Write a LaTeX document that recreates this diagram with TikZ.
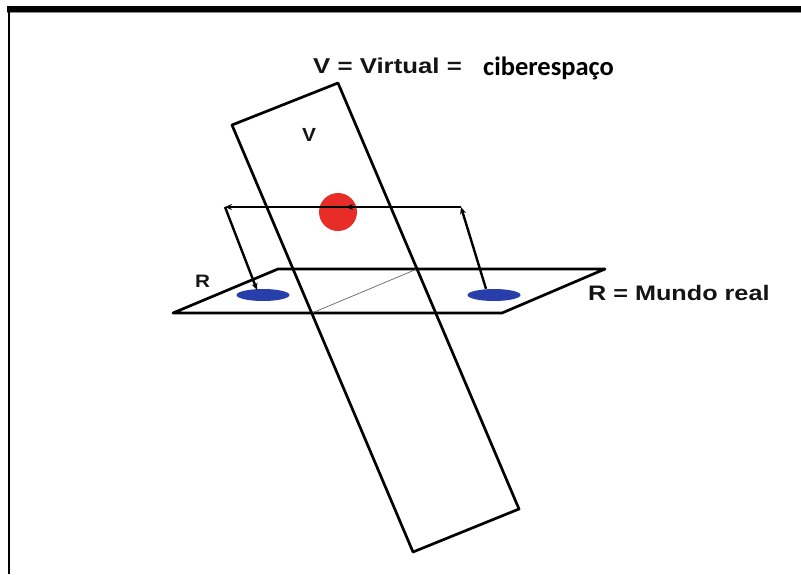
\documentclass[tikz,border=0pt]{standalone}
\usepackage{fontspec}
\setmainfont{Liberation Sans}
\newfontfamily\carlito{Carlito}
\usetikzlibrary{shapes.geometric,arrows.meta}
\definecolor{blueblob}{RGB}{40,62,170}
\definecolor{redball}{RGB}{232,45,40}
\definecolor{txtgray}{RGB}{20,20,20}
\tikzset{
  planeline/.style={line width=2.7pt, line join=round, line cap=round},
  conn/.style={line width=2.4pt, -{Stealth[length=7pt,width=6pt]}},
  lbl/.style={inner sep=0pt, anchor=base west, text=txtgray, font=\bfseries},
  blob/.style={ellipse, fill=blueblob, minimum width=53pt, minimum height=12pt, inner sep=0pt},
}
\begin{document}
\begin{tikzpicture}[x=1pt,y=-1pt]
\useasboundingbox (0,0) rectangle (801,574);
% frame
\fill[black] (7,6) rectangle (801,12);
\fill[black!45] (7,12) rectangle (801,13);
\draw[line width=2pt] (8.5,12) -- (8.5,574);
% horizontal plane R
\draw[planeline] (173,313) -- (278,269) -- (605,269) -- (502,313) -- cycle;
% intersection line
\draw[line width=0.7pt, black!60] (312,313) -- (417,269);
% vertical plane V
\draw[planeline] (232,125) -- (338,83) -- (519,509) -- (413,552) -- cycle;
% blobs
\node[blob] (bl) at (263,295) {};
\node[blob] (br) at (494,295) {};
\node[circle, fill=redball, minimum size=38pt, inner sep=0pt] (ball) at (338,212) {};
% connector path
\coordinate (cr) at (461,207);
\coordinate (cl) at (225,207);
\coordinate (cm) at (346,207);
\draw[conn] (br.north) ++(-8,0) coordinate (bs) (bs) -- (cr);
\draw[line width=2.4pt] (cr) -- (cm);
\draw[conn] (cr) -- (cm);
\draw[conn] (cm) -- (cl);
\draw[conn] (cl) -- ([shift={(-6,-5)}]bl.center);
% labels
\node[lbl, font=\bfseries\fontsize{21.5}{21.5}\selectfont] (vt) at (313,73) {\scalebox{1.2}[1]{V = Virtual =}};
\node[lbl, font=\carlito\bfseries\fontsize{26.5}{26.5}\selectfont, text=black] (cib) at (483,75) {ciberespaço};
\node[lbl, font=\bfseries\fontsize{21}{21}\selectfont] (rm) at (588,300) {\scalebox{1.2}[1]{R = Mundo real}};
\node[lbl, font=\bfseries\fontsize{19}{19}\selectfont] (vl) at (302,141) {\scalebox{1.1}[1]{V}};
\node[lbl, font=\bfseries\fontsize{18}{18}\selectfont] (rl) at (195,287) {\scalebox{1.15}[1]{R}};
\end{tikzpicture}
\end{document}
